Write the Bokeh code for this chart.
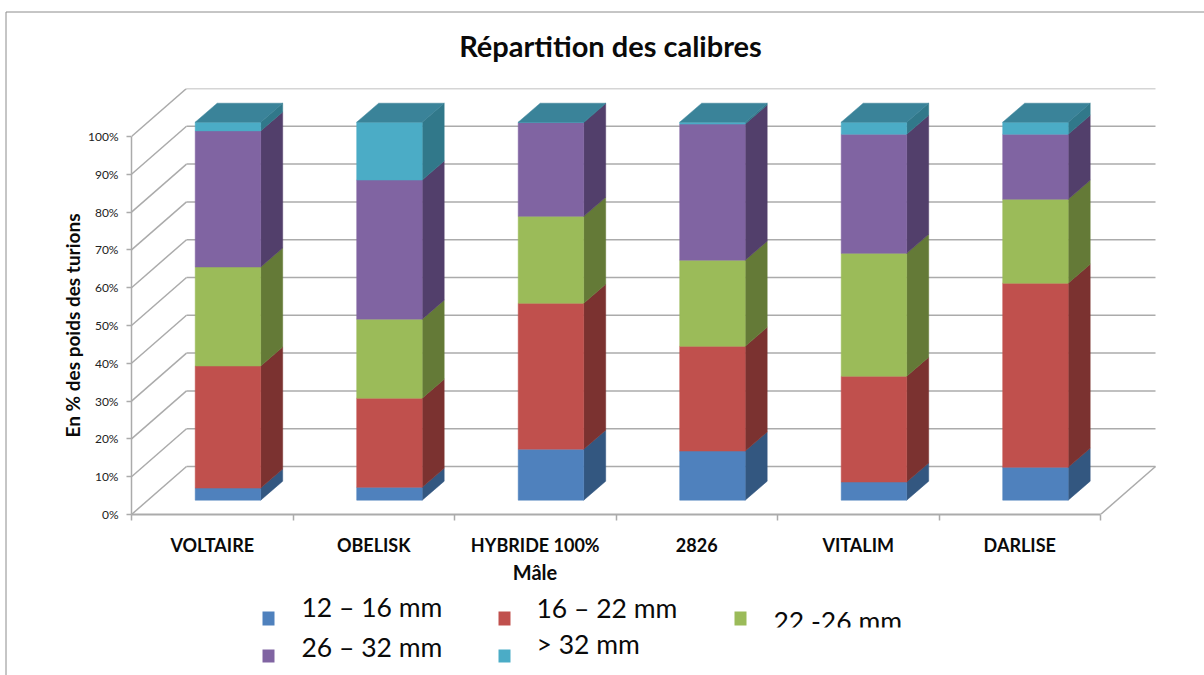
from math import pi
from bokeh.plotting import figure
from bokeh.layouts import column
from bokeh.models import (Range1d, LinearAxis, FixedTicker, PrintfTickFormatter, Label, BoxAnnotation)
from bokeh.embed import file_html
from bokeh.resources import INLINE

categories = ["VOLTAIRE", "OBELISK", "HYBRIDE 100%", "2826", "VITALIM", "DARLISE"]
series_names = ["12 – 16 mm", "16 – 22 mm", "22 -26 mm", "26 – 32 mm", "> 32 mm"]
s_12_16 = [3.2, 3.4, 13.5, 13.0, 4.8, 8.7]
s_16_22 = [32.3, 23.6, 38.6, 27.7, 28.0, 48.7]
s_22_26 = [26.2, 20.9, 23.0, 22.8, 32.5, 22.2]
s_26_32 = [36.0, 36.8, 24.8, 36.0, 31.5, 17.2]
s_32 = [2.3, 15.3, 0.1, 0.5, 3.2, 3.2]
y_ticks = [0, 10, 20, 30, 40, 50, 60, 70, 80, 90, 100]

front = ["#4F81BD", "#C0504D", "#9BBB59", "#8064A2", "#4BACC6"]
side = ["#335780", "#7B3230", "#647A37", "#523F6B", "#31788A"]
top_col = "#3A8399"
grid_col = "#ABABAB"
FONT = "Lato"
W, H = 1204, 675

# ---- underlay: a whole-page frame, in page pixels, for the texts and legend
bg = figure(width=W, height=H, output_backend="svg", toolbar_location=None,
            x_range=Range1d(0, W), y_range=Range1d(H, 0), min_border=0,
            x_axis_type=None, y_axis_type=None, outline_line_color=None)
bg.frame_align = False
bg.grid.visible = False

def txt(s, px, py, size, style="normal", align="center", baseline="alphabetic", angle=0):
    bg.add_layout(Label(x=px, y=py, text=s, text_font=FONT, text_font_size=f"{size}px",
                        text_font_style=style, text_align=align, text_baseline=baseline,
                        text_color="#0A0A0A", angle=angle))

txt("Répartition des calibres", 610, 45, 29, "bold")
txt("En % des poids des turions", 72, 325, 19, "bold", angle=pi / 2)
txt("Mâle", 534.5, 571, 20, "bold")

legend_items = [(262, 611, 625, 301, 606), (498, 611, 625, 536, 607), (734, 611, 625, 773, 620),
                (262, 649, 662, 301, 646), (498, 649, 662, 536, 643)]
for (bx, by0, by1, tx, ty), name, col in zip(legend_items, series_names, front):
    bg.quad(left=[bx], right=[bx + 12], top=[by0], bottom=[by1], fill_color=col, line_color=None)
    txt(name, tx, ty, 26.5, align="left")
bg.add_layout(BoxAnnotation(left=760, right=920, top=627, bottom=645, fill_color="white",
                            fill_alpha=1, line_color=None))
bg.segment(x0=[5.5, 5.5], y0=[11.5, 11.5], x1=[W, 5.5], y1=[11.5, H], line_color="#8C8C8C", line_width=1)

# ---- main chart
L, R, T, B = 131, 1156, 88, 514
PX_CAT = 161.5
PX_PCT = 3.78
p = figure(width=W, height=H, output_backend="svg", toolbar_location=None,
           x_range=Range1d(0, (R - L) / PX_CAT), y_range=Range1d(0, (B - T) / PX_PCT),
           min_border_left=L, min_border_right=W - R, min_border_top=T,
           min_border_bottom=H - B, x_axis_type=None, y_axis_type=None,
           outline_line_color=None, background_fill_alpha=0, border_fill_alpha=0)
p.frame_align = False
p.margin = (-H, 0, 0, 0)
p.grid.visible = False

xa = LinearAxis(ticker=FixedTicker(ticks=[i + 0.5 for i in range(6)], minor_ticks=list(range(7))),
                major_label_overrides={i + 0.5: c for i, c in enumerate(categories)},
                major_tick_in=0, major_tick_out=0, minor_tick_in=0, minor_tick_out=6,
                minor_tick_line_color=grid_col, minor_tick_line_width=1.5,
                axis_line_color=grid_col, axis_line_width=2, bounds=(0, 6),
                major_label_text_font=FONT, major_label_text_font_style="bold",
                major_label_text_font_size="18px", major_label_text_color="#0A0A0A",
                major_label_standoff=13)
p.add_layout(xa, "below")
ya = LinearAxis(ticker=FixedTicker(ticks=y_ticks), bounds=(0, 100),
                formatter=PrintfTickFormatter(format="%d%%"),
                major_tick_in=0, major_tick_out=5, minor_tick_in=0, minor_tick_out=0,
                major_tick_line_color=grid_col, major_tick_line_width=1.5,
                axis_line_color=grid_col, axis_line_width=1.5,
                major_label_text_font=FONT, major_label_text_font_size="12px",
                major_label_text_color="#222222", major_label_standoff=8)
p.add_layout(ya, "left")

wall_dx = (186 - L) / PX_CAT
wall_dy = 48 / PX_PCT
p.segment(x0=[0] * len(y_ticks), y0=y_ticks, x1=[wall_dx] * len(y_ticks),
          y1=[v + wall_dy for v in y_ticks], line_color=grid_col, line_width=1.5)
p.segment(x0=[wall_dx] * len(y_ticks), y0=[v + wall_dy for v in y_ticks],
          x1=[6 + wall_dx] * len(y_ticks), y1=[v + wall_dy for v in y_ticks],
          line_color=grid_col, line_width=1.5)
p.segment(x0=[6], y0=[0], x1=[6 + wall_dx], y1=[wall_dy], line_color=grid_col, line_width=1.5)

off_dx = 15.7 / PX_CAT
off_dy = 14.3 / PX_PCT
bar_w = 65.5 / PX_CAT
dep_dx = 22 / PX_CAT
dep_dy = 19 / PX_PCT
all_series = [s_12_16, s_16_22, s_22_26, s_26_32, s_32]
for i in range(len(categories)):
    x0 = i + 0.5 + off_dx - bar_w / 2
    x1 = x0 + bar_w
    base = off_dy
    for s, fc, sc in zip(all_series, front, side):
        top = base + s[i]
        p.patch([x1, x1 + dep_dx, x1 + dep_dx, x1],
                [base, base + dep_dy, top + dep_dy, top],
                fill_color=sc, line_color=sc, line_width=0.5)
        p.patch([x0, x1, x1, x0], [base, base, top, top],
                fill_color=fc, line_color=fc, line_width=0.5)
        base = top
    p.patch([x0, x1, x1 + dep_dx, x0 + dep_dx], [base, base, base + dep_dy, base + dep_dy],
            fill_color=top_col, line_color=top_col, line_width=0.5)

page = column(bg, p, spacing=0)
open("out.html", "w").write(file_html(page, INLINE))
